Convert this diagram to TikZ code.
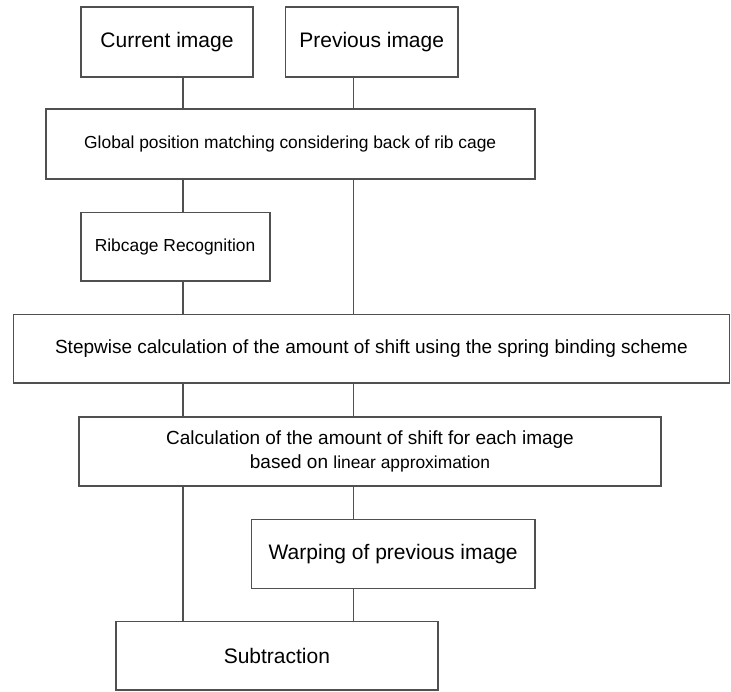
\documentclass[tikz,border=0pt]{standalone}
\usepackage{fontspec}
\setmainfont{Liberation Sans}
\definecolor{linegray}{RGB}{80,80,80}
\begin{document}
\begin{tikzpicture}[x=1pt,y=-1pt,
		box/.style={draw=linegray,line width=1.8pt,minimum height=68.5pt,inner sep=0pt,text=black},
		link/.style={draw=linegray,line width=1.6pt},
		bigtext/.style={font=\fontsize{21}{24}\selectfont},
		midtext/.style={font=\fontsize{19}{24}\selectfont},
		smalltext/.style={font=\fontsize{17.4}{21}\selectfont}]
			\useasboundingbox (0,0) rectangle (731,691);
			\def\LeftX{183}
			\def\RightX{353.5}
			\coordinate (lcol) at (\LeftX,0);
			\coordinate (rcol) at (\RightX,0);
			\node[box,bigtext,minimum width=172pt,minimum height=70pt] (cur) at (167,41.7) {Current image};
			\node[box,bigtext,minimum width=172.5pt,minimum height=70pt] (prev) at (371.7,41.7) {Previous image};
			\node[box,smalltext,minimum width=489pt,minimum height=70pt] (glob) at (290.2,144) {Global position matching considering back of rib cage};
			\node[box,smalltext,minimum width=189pt] (rib) at (175.1,246.7) {Ribcage Recognition};
			\node[box,midtext,minimum width=716pt] (shift) at (371.4,348.8) {Stepwise calculation of the amount of shift using the spring binding scheme};
			\node[box,midtext,minimum width=582pt,align=center] (calc) at (370,451.5)
				{Calculation of the amount of shift for each image\\based on {\fontsize{17.4}{21}\selectfont linear approximation}};
			\node[box,bigtext,minimum width=283.5pt,minimum height=69pt] (warp) at (393.2,554) {Warping of previous image};
			\node[box,bigtext,minimum width=322pt] (sub) at (276.9,655.8) {Subtraction};
			\foreach \a/\b/\c in {cur/glob/lcol, prev/glob/rcol, glob/rib/lcol, glob/shift/rcol,
					rib/shift/lcol, shift/calc/lcol, shift/calc/rcol, calc/sub/lcol, calc/warp/rcol, warp/sub/rcol}
				\draw[link] (\a.south -| \c) -- (\b.north -| \c);
		\end{tikzpicture}
\end{document}
